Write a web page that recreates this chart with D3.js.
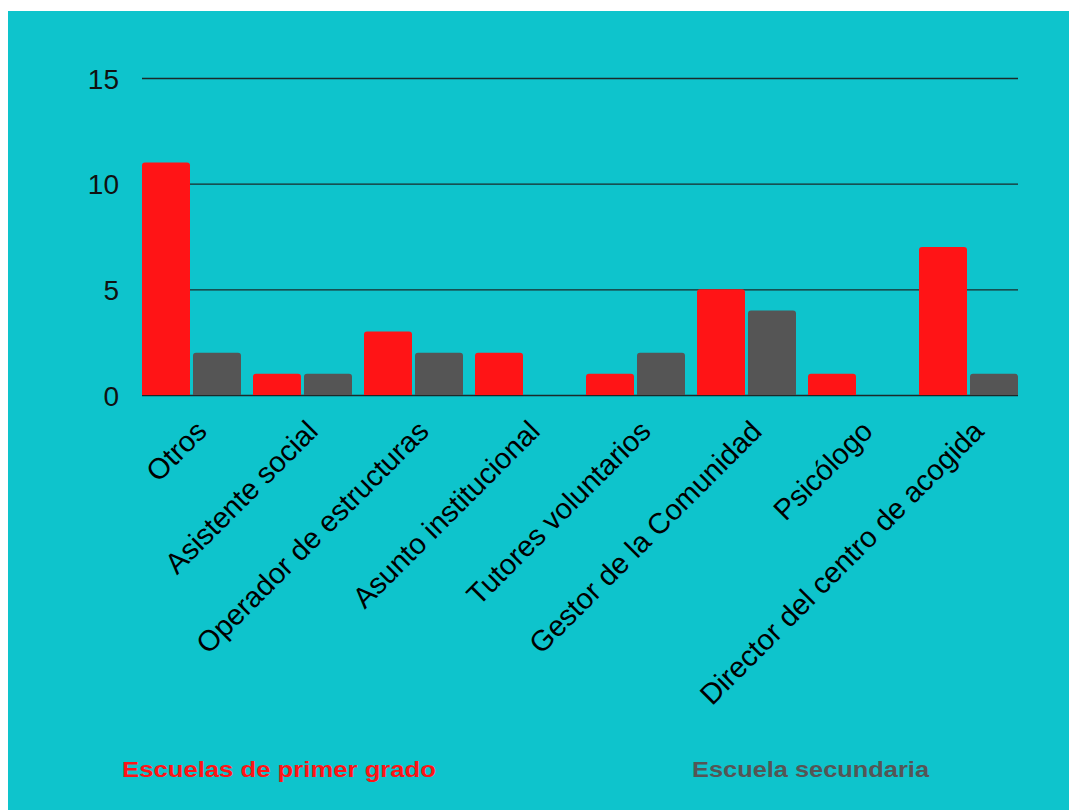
<!DOCTYPE html>
<html><head><meta charset="utf-8">
<script src="https://cdn.jsdelivr.net/npm/d3@7"></script>
<style>html,body{margin:0;padding:0;background:#fff;}svg{display:block;}</style>
</head><body>
<svg id="chart" width="1069" height="810"></svg>
<script>
const categories = ["Otros","Asistente social","Operador de estructuras","Asunto institucional","Tutores voluntarios","Gestor de la Comunidad","Psicólogo","Director del centro de acogida"];
const seriesNames = ["Escuelas de primer grado","Escuela secundaria"];
const primaria = [11,1,3,2,1,5,1,7];
const secundaria = [2,1,2,0,2,4,0,1];
const yTicks = [0,5,10,15];
const colors = ["#ff1416","#555555"];

const svg = d3.select("#chart");
svg.append("rect").attr("x",8).attr("y",11).attr("width",1061).attr("height",799).attr("fill","#0ec4cc");

const left = 142, bandStep = 111;
const x0 = d3.scaleBand().domain(categories).range([left, left + bandStep*categories.length]).padding(0);
const x1 = d3.scaleBand().domain(seriesNames).range([0, 99]).paddingInner(0.0588).paddingOuter(0);
const y = d3.scaleLinear().domain([0,15]).range([395,78]);
const gridRight = left + bandStep*(categories.length-1) + 99;

const yAxis = d3.axisLeft(y).tickValues(yTicks).tickSize(-(gridRight-left)).tickFormat(d3.format("d"));
const gAxis = svg.append("g").attr("transform",`translate(${left},0)`);

const data = categories.map((c,i)=>({cat:c, vals:[primaria[i], secundaria[i]]}));
const r = 3;
function barPath(x, w, yTop, yBot){
  const h = yBot - yTop;
  if (h <= 0) return "";
  const rr = Math.min(r, h, w/2);
  return `M${x},${yBot}V${yTop+rr}Q${x},${yTop} ${x+rr},${yTop}H${x+w-rr}Q${x+w},${yTop} ${x+w},${yTop+rr}V${yBot}Z`;
}
const groups = svg.append("g").selectAll("g").data(data).join("g")
  .attr("transform", d=>`translate(${x0(d.cat)},0)`);
groups.selectAll("path").data(d=>d.vals.map((v,j)=>({name:seriesNames[j], v, j}))).join("path")
  .attr("d", d=>barPath(x1(d.name), x1.bandwidth(), y(d.v), y(0)))
  .attr("fill", d=>colors[d.j]);

gAxis.call(yAxis);
gAxis.select(".domain").remove();
gAxis.selectAll(".tick line").attr("stroke","#1a2a2a").attr("stroke-width",1.3);
gAxis.selectAll(".tick text").attr("x",-23).attr("dy","0.36em")
  .style("font-family","'Liberation Sans', Arial, sans-serif").style("font-size","28px").attr("fill","#111");

svg.append("g").selectAll("text").data(categories).join("text")
  .attr("transform", d=>`translate(${x0(d)+49.5+17},${433}) rotate(-45)`)
  .attr("text-anchor","end")
  .style("font-family","'Liberation Sans', Arial, sans-serif").style("font-size","29px")
  .attr("fill","#000")
  .text(d=>d);

const legendPos = [{x:122, w:314},{x:692, w:237}];
svg.append("g").selectAll("text").data(seriesNames).join("text")
  .attr("x",(d,i)=>legendPos[i].x).attr("y",777)
  .attr("textLength",(d,i)=>legendPos[i].w).attr("lengthAdjust","spacingAndGlyphs")
  .style("font-family","'Liberation Sans', Arial, sans-serif").style("font-size","22px").style("font-weight","bold")
  .attr("fill",(d,i)=>colors[i])
  .text(d=>d);
</script>
</body></html>
